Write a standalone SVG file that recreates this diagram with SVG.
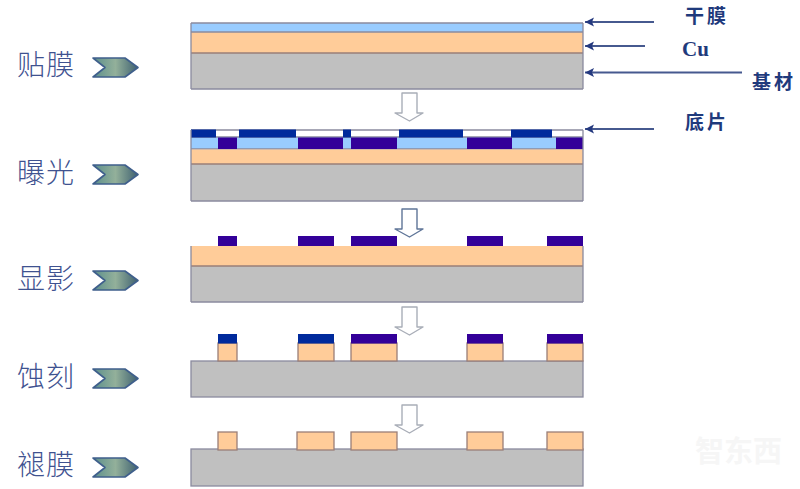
<svg xmlns="http://www.w3.org/2000/svg" width="800" height="489" viewBox="0 0 800 489">
<style>
.film{fill:#99ccff}.cu{fill:#ffcc99}.base{fill:#c0c0c0}.pu{fill:#330099}.bl{fill:#002a9c}.wh{fill:#fff}
.st{stroke:#8a8a9e;stroke-width:1.3}.cs{stroke:#9a7f78;stroke-width:1.3}.ln{stroke:#8a8a9e;stroke-width:1.3;fill:none}
.step{font-family:"Noto Sans CJK SC","Noto Sans CJK JP",sans-serif;font-size:28px;font-weight:300;fill:#3f5290;letter-spacing:1px}
.lab{font-family:"Noto Sans CJK SC","Noto Sans CJK JP",serif;font-size:19px;fill:#1f3a7c;font-weight:700;letter-spacing:3px}
.cul{font-family:"Liberation Serif",serif;font-size:21px;font-weight:700;fill:#1f3a7c}
.dn{fill:#fff;stroke:#a9aeb8;stroke-width:1.4;stroke-linejoin:round}
.ch{fill:url(#g);stroke:#3f5f8c;stroke-width:1.6;stroke-linejoin:round}
.ar{stroke:#46598f;stroke-width:2;fill:none;marker-end:url(#m)}
</style>
<defs>
<linearGradient id="g" x1="0" x2="1" y1="0" y2="0"><stop offset="0" stop-color="#5c8f8c"/><stop offset=".5" stop-color="#93b09a"/><stop offset="1" stop-color="#3e6070"/></linearGradient>
<marker id="m" markerWidth="10" markerHeight="10" refX="9" refY="5" orient="auto" markerUnits="userSpaceOnUse"><path d="M0 0.500L9 5L0 9.500L2 5Z" fill="#24397f"/></marker>
<path id="c" d="M93 0H125L138 9.500L125 19H93L105 9.500Z"/>
<path id="d" d="M402 0H417V20H423L409.500 28L395 20H402Z"/>
</defs>
<rect width="800" height="489" fill="#fff"/>
<g id="connectors">
<path class="ar" d="M654 22H585"/><path class="ar" d="M645 46H585"/><path class="ar" d="M742 72.500H585"/><path class="ar" d="M654 129H585"/>
<use href="#d" y="93" class="dn"/><use href="#d" y="209" class="dn" style="stroke:#5f7598"/><use href="#d" y="307" class="dn"/><use href="#d" y="405" class="dn"/>
</g>
<g id="step-1">
<text class="step" x="17" y="75">贴膜</text><use href="#c" y="58" class="ch"/>
<rect class="film" x="191" y="23" width="392" height="9"/><rect class="cu" x="191" y="32" width="392" height="21"/><rect class="base" x="191" y="53" width="392" height="36"/>
<path class="ln" d="M191 23H583M191 32H583"/><path class="cs" fill="none" d="M191 53H583"/><path class="ln" d="M191 89H583M191 23V89M583 23V89"/>
</g>
<g id="step-2">
<text class="step" x="17" y="183">曝光</text><use href="#c" y="165" class="ch"/>
<rect class="wh" x="191" y="130" width="392" height="7"/>
<rect class="film" x="191" y="137" width="392" height="12"/>
<path class="ln" d="M191 130H583M191 137H583M191 149H583"/>
<g class="bl"><rect x="191" y="129.500" width="25" height="8"/><rect x="239" y="129.500" width="57" height="8"/><rect x="343" y="129.500" width="8" height="8"/><rect x="399" y="129.500" width="64" height="8"/><rect x="511" y="129.500" width="41" height="8"/></g>
<g class="pu"><rect x="218" y="137.500" width="19" height="11.500"/><rect x="298" y="137.500" width="45" height="11.500"/><rect x="351" y="137.500" width="46" height="11.500"/><rect x="467" y="137.500" width="45" height="11.500"/><rect x="556" y="137.500" width="27" height="11.500"/></g>
<rect class="cu" x="191" y="149.500" width="392" height="14.500"/><rect class="base" x="191" y="164" width="392" height="37"/>
<path class="cs" fill="none" d="M191 164H583"/><path class="ln" d="M191 201H583M191 130V201M583 130V201"/>
</g>
<g id="step-3">
<text class="step" x="17" y="289">显影</text><use href="#c" y="271" class="ch"/>
<g class="pu"><rect x="218" y="236" width="19" height="10"/><rect x="298" y="236" width="36" height="10"/><rect x="351" y="236" width="46" height="10"/><rect x="467" y="236" width="36" height="10"/><rect x="547" y="236" width="36" height="10"/></g>
<rect class="cu" x="191" y="246" width="392" height="20"/><rect class="base" x="191" y="266" width="392" height="36"/>
<path class="cs" fill="none" d="M191 266H583"/><path class="ln" d="M191 302H583M191 246V302M583 246V302"/>
</g>
<g id="step-4">
<text class="step" x="17" y="387">蚀刻</text><use href="#c" y="369" class="ch"/>
<rect class="base st" x="191" y="361" width="392" height="36"/>
<g class="cu cs"><rect x="218" y="343" width="19" height="18"/><rect x="298" y="343" width="36" height="18"/><rect x="351" y="343" width="46" height="18"/><rect x="467" y="343" width="36" height="18"/><rect x="547" y="343" width="36" height="18"/></g>
<rect class="bl" x="218" y="334" width="19" height="9.500"/><rect class="bl" x="298" y="334" width="36" height="9.500"/>
<g class="pu"><rect x="351" y="334" width="46" height="9.500"/><rect x="467" y="334" width="36" height="9.500"/><rect x="547" y="334" width="36" height="9.500"/></g>
</g>
<g id="step-5">
<text class="step" x="17" y="475">褪膜</text><use href="#c" y="458" class="ch"/>
<rect class="base st" x="191" y="449" width="392" height="37"/>
<g class="cu cs"><rect x="218" y="432" width="19" height="18"/><rect x="297" y="432" width="37" height="18"/><rect x="351" y="432" width="46" height="18"/><rect x="467" y="432" width="36" height="18"/><rect x="547" y="432" width="36" height="18"/></g>
</g>
<g id="label-film"><text class="lab" x="685" y="23">干膜</text></g>
<g id="label-cu"><text class="cul" x="682" y="56">Cu</text></g>
<g id="label-base"><text class="lab" x="752" y="89">基材</text></g>
<g id="label-mask"><text class="lab" x="685" y="129">底片</text></g>
<g id="watermark"><text x="695" y="462" style="font-family:'Noto Sans CJK SC',sans-serif;font-size:29px;font-weight:700;fill:#f6f6f6">智东西</text></g>
</svg>
